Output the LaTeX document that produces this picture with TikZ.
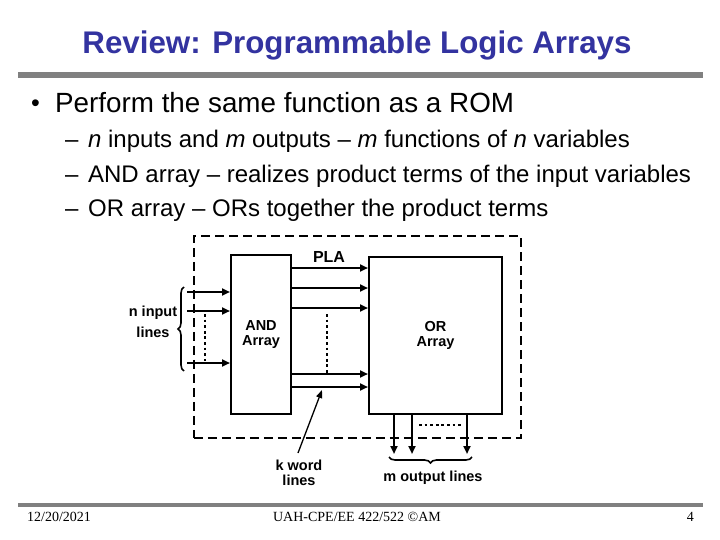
\documentclass[tikz,border=0pt]{standalone}
\usepackage{fontspec}
\setmainfont{Liberation Sans}
\newfontfamily\footfont{Liberation Serif}
\usetikzlibrary{arrows.meta,decorations.pathreplacing}
\definecolor{titleblue}{RGB}{51,51,160}
\definecolor{rulegray}{RGB}{128,128,128}
\tikzset{
  blockbox/.style={draw,line width=2pt,anchor=north west,align=center,
    font=\fontsize{14.5}{15}\selectfont\bfseries,inner sep=0pt},
  arr/.style={line width=2pt,-{Triangle[length=8pt,width=7pt]}},
  thinarr/.style={line width=1.3pt,-{Triangle[length=8pt,width=6pt]}},
  dotline/.style={line width=2.8pt,dash pattern=on 2.8pt off 2.8pt},
  lbl/.style={font=\fontsize{14.5}{15.5}\selectfont\bfseries,align=center,inner sep=0pt},
  bracestyle/.style={line width=1.6pt,decorate,decoration={brace,amplitude=6pt}},
  subitem/.style={anchor=base west,inner sep=0pt,font=\fontsize{24}{26}\selectfont},
  foot/.style={inner sep=0pt,anchor=base,font=\footfont\fontsize{14}{16}\selectfont}
}
\begin{document}
\begin{tikzpicture}[x=1pt,y=-1pt]
\useasboundingbox (0,0) rectangle (720,540);
\fill[white] (0,0) rectangle (720,540);
% title
\node[inner sep=0pt,anchor=base,text=titleblue,font=\fontsize{31.3}{34}\selectfont\bfseries] (title) at (357,54) {Review: Programmable Logic Arrays};
\fill[rulegray] (18,72) rectangle (703,78);
% bullets
\node[anchor=base west,inner sep=0pt,font=\fontsize{25}{27}\selectfont] (b0) at (31,112) {•};
\node[anchor=base west,inner sep=0pt,font=\fontsize{27.8}{30}\selectfont] (b1) at (55,113) {Perform the same function as a ROM};
\node[subitem] (s1) at (65,148) {–\hspace{0.4em}\textit{n} inputs and \textit{m} outputs – \textit{m} functions of \textit{n} variables};
\node[subitem] (s2) at (65,183) {–\hspace{0.4em}AND array – realizes product terms of the input variables};
\node[subitem] (s3) at (65,217) {–\hspace{0.4em}OR array – ORs together the product terms};
% diagram
\node[draw,line width=1.8pt,dash pattern=on 9pt off 5pt,anchor=north west,minimum width=327pt,minimum height=202pt,inner sep=0pt] (pla) at (193,235) {};
\node[blockbox,minimum width=60pt,minimum height=159pt] (AND) at (230,254) {AND\\Array};
\node[blockbox,minimum width=133pt,minimum height=157pt] (OR) at (368,256) {OR\\Array};
\node[lbl,font=\fontsize{16}{17}\selectfont\bfseries] (plalbl) at (329,257) {PLA};
% word lines
\foreach \yy in {268,288,308,374,387}
  \draw[arr] (AND.east |- 0,\yy) -- (OR.west |- 0,\yy);
\coordinate (wd1) at (327,314);
\coordinate (wd2) at (327,373);
\draw[dotline] (wd1) -- (wd2);
% inputs
\foreach \yy in {292,311,363}
  \draw[arr] (187,\yy) -- (AND.west |- 0,\yy);
\coordinate (id1) at (205,314);
\coordinate (id2) at (205,361);
\draw[dotline] (id1) -- (id2);
\draw[bracestyle] (184,371) -- (184,287);
\node[lbl,font=\fontsize{14.5}{21}\selectfont\bfseries] (nin) at (153,322) {n input\\lines};
% outputs
\foreach \xx in {394,412,467}
  \draw[arr] (OR.south -| \xx,0) -- (\xx,454);
\coordinate (od1) at (419,425);
\coordinate (od2) at (463,425);
\draw[dotline] (od1) -- (od2);
\draw[bracestyle] (472,457) -- (389,457);
\node[lbl] (mout) at (433,478) {m output lines};
% k word lines
\node[lbl] (kw) at (299,473) {k word\\lines};
\coordinate (kwtip) at (322,390);
\draw[thinarr] (298,453) -- (kwtip);
% footer
\fill[rulegray] (18,503) rectangle (703,507);
\node[foot,anchor=base west] (f1) at (27,521) {12/20/2021};
\node[foot] (f2) at (357,521) {UAH-CPE/EE 422/522 ©AM};
\node[foot,anchor=base east] (f3) at (694,521) {4};
\end{tikzpicture}
\end{document}
